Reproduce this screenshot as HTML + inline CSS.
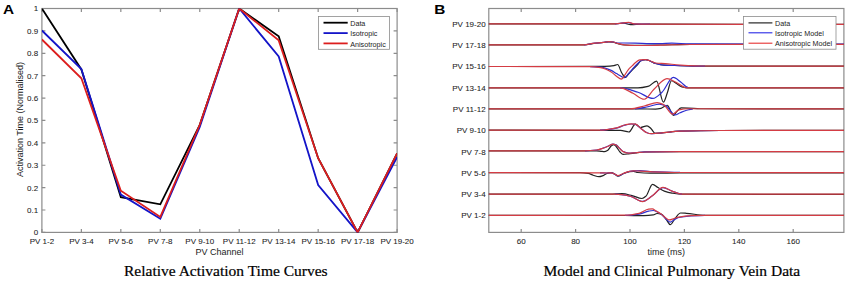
<!DOCTYPE html>
<html><head><meta charset="utf-8"><style>
html,body{margin:0;padding:0;background:#fff;width:849px;height:283px;overflow:hidden}
svg{display:block}
</style></head><body>
<svg width="849" height="283" viewBox="0 0 849 283">
<rect width="849" height="283" fill="#fff"/>
<text transform="translate(3 14.3) scale(1.13 1)" font-family="Liberation Sans, sans-serif" font-weight="bold" font-size="13.6" fill="#000">A</text>
<text transform="translate(434.2 14.4) scale(1.13 1)" font-family="Liberation Sans, sans-serif" font-weight="bold" font-size="13.6" fill="#000">B</text>
<defs><clipPath id="ca"><rect x="41.9" y="8.5" width="355.2" height="223.9"/></clipPath>
<clipPath id="cb"><rect x="488.8" y="8.5" width="355.1" height="223.9"/></clipPath></defs>
<g fill="none" stroke="#8c8c8c" stroke-width="1.2">
<rect x="41.9" y="8.5" width="355.2" height="223.9"/>
<path d="M41.90 232.40 v-3.5 M41.90 8.50 v3.5 M81.37 232.40 v-3.5 M81.37 8.50 v3.5 M120.83 232.40 v-3.5 M120.83 8.50 v3.5 M160.30 232.40 v-3.5 M160.30 8.50 v3.5 M199.77 232.40 v-3.5 M199.77 8.50 v3.5 M239.23 232.40 v-3.5 M239.23 8.50 v3.5 M278.70 232.40 v-3.5 M278.70 8.50 v3.5 M318.17 232.40 v-3.5 M318.17 8.50 v3.5 M357.63 232.40 v-3.5 M357.63 8.50 v3.5 M397.10 232.40 v-3.5 M397.10 8.50 v3.5 M41.90 232.40 h3.5 M397.10 232.40 h-3.5 M41.90 210.01 h3.5 M397.10 210.01 h-3.5 M41.90 187.62 h3.5 M397.10 187.62 h-3.5 M41.90 165.23 h3.5 M397.10 165.23 h-3.5 M41.90 142.84 h3.5 M397.10 142.84 h-3.5 M41.90 120.45 h3.5 M397.10 120.45 h-3.5 M41.90 98.06 h3.5 M397.10 98.06 h-3.5 M41.90 75.67 h3.5 M397.10 75.67 h-3.5 M41.90 53.28 h3.5 M397.10 53.28 h-3.5 M41.90 30.89 h3.5 M397.10 30.89 h-3.5 M41.90 8.50 h3.5 M397.10 8.50 h-3.5"/>
</g>
<g clip-path="url(#ca)" fill="none" stroke-width="1.8" stroke-linejoin="miter">
<polyline points="41.90,8.50 81.37,69.50 120.83,197.10 160.30,204.30 199.77,124.80 239.23,8.50 278.70,36.20 318.17,158.20 357.63,232.40 397.10,153.30" stroke="#000"/>
<polyline points="41.90,30.50 81.37,69.10 120.83,194.60 160.30,218.80 199.77,127.00 239.23,8.50 278.70,56.50 318.17,185.10 357.63,232.40 397.10,157.20" stroke="#1414c8"/>
<polyline points="41.90,39.50 81.37,78.30 120.83,190.70 160.30,216.90 199.77,124.80 239.23,8.50 278.70,40.40 318.17,158.20 357.63,232.40 397.10,153.30" stroke="#dc1e1e"/>
</g>
<g font-family="Liberation Sans, sans-serif" font-size="8" fill="#1c1c1c" stroke="#1c1c1c" stroke-width="0.06">
<text x="41.90" y="244.4" text-anchor="middle">PV 1-2</text>
<text x="81.37" y="244.4" text-anchor="middle">PV 3-4</text>
<text x="120.83" y="244.4" text-anchor="middle">PV 5-6</text>
<text x="160.30" y="244.4" text-anchor="middle">PV 7-8</text>
<text x="199.77" y="244.4" text-anchor="middle">PV 9-10</text>
<text x="239.23" y="244.4" text-anchor="middle">PV 11-12</text>
<text x="278.70" y="244.4" text-anchor="middle">PV 13-14</text>
<text x="318.17" y="244.4" text-anchor="middle">PV 15-16</text>
<text x="357.63" y="244.4" text-anchor="middle">PV 17-18</text>
<text x="397.10" y="244.4" text-anchor="middle">PV 19-20</text>
<text x="38.2" y="235.30" text-anchor="end">0</text>
<text x="38.2" y="212.91" text-anchor="end">0.1</text>
<text x="38.2" y="190.52" text-anchor="end">0.2</text>
<text x="38.2" y="168.13" text-anchor="end">0.3</text>
<text x="38.2" y="145.74" text-anchor="end">0.4</text>
<text x="38.2" y="123.35" text-anchor="end">0.5</text>
<text x="38.2" y="100.96" text-anchor="end">0.6</text>
<text x="38.2" y="78.57" text-anchor="end">0.7</text>
<text x="38.2" y="56.18" text-anchor="end">0.8</text>
<text x="38.2" y="33.79" text-anchor="end">0.9</text>
<text x="38.2" y="11.40" text-anchor="end">1</text>
</g>
<text x="219.5" y="255.2" font-family="Liberation Sans, sans-serif" font-size="9" fill="#1c1c1c" text-anchor="middle">PV Channel</text>
<text transform="translate(22.6 119.5) rotate(-90)" font-family="Liberation Sans, sans-serif" font-size="9" fill="#1c1c1c" text-anchor="middle">Activation Time (Normalised)</text>
<rect x="318.5" y="16.5" width="71" height="32.8" fill="#fff" stroke="#8c8c8c" stroke-width="0.8"/>
<g stroke-width="1.8">
<path d="M323.5 22.7 H347.7" stroke="#000"/>
<path d="M323.5 33.1 H347.7" stroke="#1414c8"/>
<path d="M323.5 43.4 H347.7" stroke="#dc1e1e"/>
</g>
<g font-family="Liberation Sans, sans-serif" font-size="7.2" fill="#1c1c1c">
<text x="350.2" y="25.9">Data</text>
<text x="350.2" y="36.3">Isotropic</text>
<text x="350.2" y="46.6">Anisotropic</text>
</g>
<text x="124" y="276.3" font-family="Liberation Serif, serif" font-size="15.5" fill="#000" stroke="#000" stroke-width="0.22">Relative Activation Time Curves</text>
<text x="543.5" y="276.3" font-family="Liberation Serif, serif" font-size="15.5" fill="#000" stroke="#000" stroke-width="0.22">Model and Clinical Pulmonary Vein Data</text>
<g fill="none" stroke="#8c8c8c" stroke-width="1.2">
<rect x="488.8" y="8.5" width="355.1" height="223.9"/>
<path d="M521.20 232.40 v-3.5 M521.20 8.50 v3.5 M575.60 232.40 v-3.5 M575.60 8.50 v3.5 M630.00 232.40 v-3.5 M630.00 8.50 v3.5 M684.40 232.40 v-3.5 M684.40 8.50 v3.5 M738.80 232.40 v-3.5 M738.80 8.50 v3.5 M793.20 232.40 v-3.5 M793.20 8.50 v3.5"/>
</g>
<g font-family="Liberation Sans, sans-serif" font-size="8" fill="#1c1c1c" stroke="#1c1c1c" stroke-width="0.06">
<text x="485.6" y="218.40" text-anchor="end">PV 1-2</text>
<text x="485.6" y="197.10" text-anchor="end">PV 3-4</text>
<text x="485.6" y="175.80" text-anchor="end">PV 5-6</text>
<text x="485.6" y="154.50" text-anchor="end">PV 7-8</text>
<text x="485.6" y="133.20" text-anchor="end">PV 9-10</text>
<text x="485.6" y="111.90" text-anchor="end">PV 11-12</text>
<text x="485.6" y="90.60" text-anchor="end">PV 13-14</text>
<text x="485.6" y="69.30" text-anchor="end">PV 15-16</text>
<text x="485.6" y="48.00" text-anchor="end">PV 17-18</text>
<text x="485.6" y="26.70" text-anchor="end">PV 19-20</text>
<text x="521.20" y="244.4" text-anchor="middle">60</text>
<text x="575.60" y="244.4" text-anchor="middle">80</text>
<text x="630.00" y="244.4" text-anchor="middle">100</text>
<text x="684.40" y="244.4" text-anchor="middle">120</text>
<text x="738.80" y="244.4" text-anchor="middle">140</text>
<text x="793.20" y="244.4" text-anchor="middle">160</text>
</g>
<text x="666.3" y="255.2" font-family="Liberation Sans, sans-serif" font-size="9" fill="#1c1c1c" text-anchor="middle">time (ms)</text>
<g clip-path="url(#cb)" fill="none" stroke-width="1.2" stroke-linejoin="round">
<path d="M486.00 215.30 C532.33 215.30 578.67 215.38 625.00 215.50 C631.30 215.52 637.60 215.60 643.90 215.60 C647.03 215.60 650.17 215.33 653.30 214.90 C654.53 214.73 655.77 213.50 657.00 213.50 C658.60 213.50 660.20 213.83 661.80 214.30 C663.37 214.76 664.93 217.95 666.50 219.90 C667.73 221.43 668.97 224.70 670.20 224.70 C671.80 224.70 673.40 220.29 675.00 218.50 C676.87 216.41 678.73 213.00 680.60 213.00 C682.50 213.00 684.40 213.17 686.30 213.30 C692.53 213.71 698.77 215.29 705.00 215.30 C752.00 215.39 799.00 215.40 846.00 215.40" stroke="#222222" stroke-opacity="1"/>
<path d="M486.00 194.20 C527.33 194.20 568.67 194.20 610.00 194.20 C614.00 194.20 618.00 193.70 622.00 193.70 C625.33 193.70 628.67 194.83 632.00 195.60 C635.33 196.37 638.67 198.50 642.00 198.50 C643.33 198.50 644.67 197.26 646.00 196.10 C648.17 194.22 650.33 184.30 652.50 184.30 C654.33 184.30 656.17 186.54 658.00 187.60 C660.10 188.81 662.20 190.35 664.30 191.10 C666.87 192.02 669.43 192.70 672.00 193.10 C675.33 193.62 678.67 194.19 682.00 194.20 C736.67 194.29 791.33 194.30 846.00 194.30" stroke="#222222" stroke-opacity="1"/>
<path d="M486.00 172.70 C517.33 172.70 548.67 172.70 580.00 172.70 C582.73 172.70 585.47 173.00 588.20 173.40 C589.87 173.64 591.53 174.70 593.20 175.20 C595.13 175.78 597.07 176.70 599.00 176.70 C600.37 176.70 601.73 176.09 603.10 175.60 C604.47 175.11 605.83 173.75 607.20 173.40 C608.57 173.05 609.93 172.70 611.30 172.70 C612.40 172.70 613.50 173.46 614.60 174.00 C615.70 174.54 616.80 176.20 617.90 176.20 C619.83 176.20 621.77 174.24 623.70 173.50 C625.63 172.76 627.57 171.76 629.50 171.60 C630.87 171.49 632.23 171.40 633.60 171.40 C634.97 171.40 636.33 172.37 637.70 172.50 C641.80 172.88 645.90 173.10 650.00 173.10 C660.00 173.10 670.00 173.02 680.00 173.00 C735.33 172.89 790.67 172.80 846.00 172.80" stroke="#222222" stroke-opacity="1"/>
<path d="M486.00 150.90 C519.00 150.90 552.00 150.90 585.00 150.90 C588.90 150.90 592.80 150.90 596.70 150.90 C598.13 150.90 599.57 151.17 601.00 151.30 C602.13 151.40 603.27 151.60 604.40 151.60 C605.43 151.60 606.47 150.99 607.50 150.40 C608.80 149.66 610.10 146.71 611.40 145.80 C612.17 145.26 612.93 144.60 613.70 144.60 C614.50 144.60 615.30 145.71 616.10 146.50 C617.40 147.79 618.70 150.75 620.00 152.00 C621.03 152.99 622.07 154.30 623.10 154.30 C624.90 154.30 626.70 154.07 628.50 153.90 C630.83 153.68 633.17 153.17 635.50 152.90 C638.60 152.54 641.70 152.07 644.80 152.00 C656.53 151.72 668.27 151.60 680.00 151.60 C735.33 151.60 790.67 151.60 846.00 151.60" stroke="#222222" stroke-opacity="1"/>
<path d="M486.00 130.20 C524.00 130.20 562.00 130.23 600.00 130.30 C606.87 130.31 613.73 130.32 620.60 130.40 C623.37 130.43 626.13 132.00 628.90 132.00 C631.07 132.00 633.23 124.20 635.40 124.20 C637.07 124.20 638.73 127.50 640.40 127.50 C642.60 127.50 644.80 125.80 647.00 125.80 C648.37 125.80 649.73 127.51 651.10 128.70 C652.47 129.89 653.83 133.30 655.20 133.30 C656.80 133.30 658.40 133.19 660.00 133.10 C666.67 132.74 673.33 131.41 680.00 131.20 C693.33 130.77 706.67 130.52 720.00 130.50 C762.00 130.42 804.00 130.40 846.00 130.40" stroke="#222222" stroke-opacity="1"/>
<path d="M486.00 108.85 C537.33 108.85 588.67 108.85 640.00 108.85 C645.17 108.85 650.33 109.15 655.50 109.15 C657.33 109.15 659.17 108.76 661.00 108.35 C663.07 107.89 665.13 105.25 667.20 105.25 C669.27 105.25 671.33 115.35 673.40 115.35 C674.60 115.35 675.80 112.37 677.00 111.25 C678.40 109.94 679.80 107.95 681.20 107.95 C683.53 107.95 685.87 108.00 688.20 108.05 C692.13 108.14 696.07 108.74 700.00 108.75 C748.67 108.84 797.33 108.85 846.00 108.85" stroke="#222222" stroke-opacity="1"/>
<path d="M486.00 87.95 C536.67 87.95 587.33 87.95 638.00 87.95 C641.33 87.95 644.67 87.27 648.00 86.45 C650.87 85.75 653.73 81.15 656.60 81.15 C658.87 81.15 661.13 102.15 663.40 102.15 C664.77 102.15 666.13 95.88 667.50 92.25 C668.80 88.80 670.10 80.75 671.40 80.75 C672.93 80.75 674.47 82.36 676.00 83.25 C677.97 84.39 679.93 86.44 681.90 86.95 C683.93 87.48 685.97 87.95 688.00 87.95 C740.67 87.95 793.33 87.95 846.00 87.95" stroke="#222222" stroke-opacity="1"/>
<path d="M486.00 66.50 C524.00 66.50 562.00 66.49 600.00 66.40 C603.33 66.39 606.67 66.28 610.00 66.10 C611.33 66.03 612.67 65.84 614.00 65.60 C615.20 65.39 616.40 64.50 617.60 64.50 C619.00 64.50 620.40 70.88 621.80 73.00 C623.03 74.86 624.27 77.50 625.50 77.50 C626.50 77.50 627.50 75.12 628.50 74.00 C629.80 72.54 631.10 71.15 632.40 69.80 C634.17 67.96 635.93 66.41 637.70 64.50 C638.77 63.35 639.83 61.26 640.90 60.80 C642.50 60.11 644.10 59.60 645.70 59.60 C647.13 59.60 648.57 60.46 650.00 61.00 C651.87 61.70 653.73 62.97 655.60 63.50 C658.40 64.30 661.20 65.06 664.00 65.20 C669.33 65.46 674.67 65.47 680.00 65.60 C688.33 65.80 696.67 66.20 705.00 66.20 C752.00 66.20 799.00 66.20 846.00 66.20" stroke="#222222" stroke-opacity="1"/>
<path d="M486.00 44.80 C518.73 44.80 551.47 44.80 584.20 44.80 C587.03 44.80 589.87 43.94 592.70 43.60 C596.23 43.17 599.77 42.90 603.30 42.50 C605.17 42.29 607.03 41.80 608.90 41.80 C610.33 41.80 611.77 41.93 613.20 42.10 C614.60 42.26 616.00 43.13 617.40 43.50 C619.77 44.12 622.13 44.87 624.50 45.00 C628.00 45.19 631.50 45.30 635.00 45.30 C643.33 45.30 651.67 45.12 660.00 45.00 C670.00 44.85 680.00 44.42 690.00 44.40 C742.00 44.32 794.00 44.30 846.00 44.30" stroke="#222222" stroke-opacity="1"/>
<path d="M486.00 23.80 C529.00 23.80 572.00 23.80 615.00 23.80 C618.00 23.80 621.00 23.20 624.00 23.20 C626.20 23.20 628.40 24.70 630.60 24.70 C632.40 24.70 634.20 24.44 636.00 24.40 C640.67 24.28 645.33 24.20 650.00 24.20 C715.33 24.20 780.67 24.30 846.00 24.30" stroke="#222222" stroke-opacity="1"/>
<path d="M625.00 215.30 C629.70 215.30 634.40 214.75 639.10 214.10 C642.27 213.66 645.43 211.65 648.60 211.10 C650.17 210.83 651.73 210.50 653.30 210.50 C654.53 210.50 655.77 211.18 657.00 211.70 C658.60 212.37 660.20 213.46 661.80 214.70 C663.37 215.92 664.93 218.21 666.50 219.50 C667.73 220.52 668.97 222.10 670.20 222.10 C671.47 222.10 672.73 220.69 674.00 220.00 C675.57 219.15 677.13 217.86 678.70 217.50 C682.80 216.56 686.90 216.17 691.00 215.90 C695.67 215.60 700.33 215.30 705.00 215.30" stroke="#2e2ed0" stroke-opacity="1"/>
<path d="M615.00 194.20 C620.00 194.20 625.00 195.11 630.00 196.10 C634.20 196.93 638.40 201.40 642.60 201.40 C645.73 201.40 648.87 198.13 652.00 196.10 C655.67 193.72 659.33 187.60 663.00 187.60 C666.00 187.60 669.00 190.08 672.00 191.10 C675.33 192.23 678.67 194.10 682.00 194.10" stroke="#2e2ed0" stroke-opacity="1"/>
<path d="M600.00 172.80 C602.33 172.80 604.67 173.00 607.00 173.00 C608.43 173.00 609.87 172.80 611.30 172.80 C612.40 172.80 613.50 173.52 614.60 174.00 C615.70 174.48 616.80 175.80 617.90 175.80 C619.83 175.80 621.77 174.25 623.70 173.50 C625.63 172.75 627.57 171.65 629.50 171.30 C630.87 171.05 632.23 170.84 633.60 170.80 C635.73 170.74 637.87 170.70 640.00 170.70 C643.33 170.70 646.67 171.45 650.00 171.60 C660.00 172.05 670.00 172.40 680.00 172.40" stroke="#2e2ed0" stroke-opacity="1"/>
<path d="M585.00 150.80 C588.90 150.80 592.80 150.46 596.70 150.00 C599.27 149.70 601.83 148.52 604.40 147.60 C605.70 147.13 607.00 146.54 608.30 146.00 C609.87 145.35 611.43 144.00 613.00 144.00 C614.03 144.00 615.07 144.44 616.10 144.90 C617.40 145.47 618.70 147.59 620.00 148.80 C621.03 149.76 622.07 151.04 623.10 151.50 C624.90 152.30 626.70 153.00 628.50 153.00 C630.83 153.00 633.17 152.76 635.50 152.60 C638.60 152.39 641.70 151.86 644.80 151.80 C656.53 151.58 668.27 151.50 680.00 151.50" stroke="#2e2ed0" stroke-opacity="1"/>
<path d="M600.00 130.20 C605.50 130.20 611.00 129.26 616.50 128.20 C619.23 127.67 621.97 125.86 624.70 125.20 C626.90 124.67 629.10 124.00 631.30 124.00 C632.67 124.00 634.03 124.17 635.40 124.40 C637.33 124.72 639.27 127.27 641.20 128.70 C642.87 129.93 644.53 131.75 646.20 132.40 C647.83 133.04 649.47 133.70 651.10 133.70 C652.47 133.70 653.83 133.49 655.20 133.40 C656.80 133.29 658.40 133.22 660.00 133.10 C666.67 132.62 673.33 131.41 680.00 131.20 C693.33 130.77 706.67 130.50 720.00 130.50" stroke="#2e2ed0" stroke-opacity="1"/>
<path d="M635.00 108.85 C639.33 108.85 643.67 107.59 648.00 106.75 C651.80 106.02 655.60 104.05 659.40 104.05 C661.47 104.05 663.53 104.84 665.60 105.65 C668.73 106.88 671.87 114.95 675.00 114.95 C676.67 114.95 678.33 113.43 680.00 112.75 C682.20 111.85 684.40 110.78 686.60 110.25 C688.67 109.75 690.73 109.15 692.80 109.15" stroke="#2e2ed0" stroke-opacity="1"/>
<path d="M620.00 87.95 C626.00 87.95 632.00 90.41 638.00 92.25 C642.97 93.77 647.93 98.45 652.90 98.45 C655.93 98.45 658.97 94.94 662.00 92.25 C665.77 88.91 669.53 77.45 673.30 77.45 C675.87 77.45 678.43 80.51 681.00 82.25 C683.33 83.83 685.67 87.45 688.00 87.45" stroke="#2e2ed0" stroke-opacity="1"/>
<path d="M590.00 66.60 C593.53 66.60 597.07 66.86 600.60 67.20 C604.13 67.54 607.67 68.92 611.20 70.40 C612.97 71.14 614.73 72.55 616.50 73.60 C618.27 74.65 620.03 75.76 621.80 76.70 C622.53 77.09 623.27 77.80 624.00 77.80 C624.67 77.80 625.33 77.03 626.00 76.50 C627.33 75.43 628.67 73.49 630.00 72.00 C632.57 69.14 635.13 65.87 637.70 63.50 C638.80 62.49 639.90 61.21 641.00 60.80 C642.57 60.21 644.13 59.70 645.70 59.70 C647.13 59.70 648.57 60.49 650.00 61.00 C651.87 61.67 653.73 62.97 655.60 63.50 C658.40 64.30 661.20 65.06 664.00 65.20 C669.33 65.46 674.67 65.47 680.00 65.60 C688.33 65.80 696.67 66.20 705.00 66.20" stroke="#2e2ed0" stroke-opacity="1"/>
<path d="M584.20 44.80 C587.03 44.80 589.87 43.74 592.70 43.40 C596.23 42.97 599.77 42.79 603.30 42.40 C605.17 42.20 607.03 41.70 608.90 41.70 C610.33 41.70 611.77 41.84 613.20 42.00 C614.60 42.15 616.00 43.00 617.40 43.00 C619.77 43.00 622.13 43.00 624.50 43.00 C628.00 43.00 631.50 43.05 635.00 43.10 C640.00 43.17 645.00 43.60 650.00 43.60 C653.33 43.60 656.67 43.60 660.00 43.60 C663.93 43.60 667.87 43.10 671.80 43.10 C677.87 43.10 683.93 43.87 690.00 43.90 C742.00 44.15 794.00 44.20 846.00 44.20" stroke="#2e2ed0" stroke-opacity="1"/>
<path d="M615.00 23.80 C619.57 23.80 624.13 22.60 628.70 22.60 C630.47 22.60 632.23 23.71 634.00 23.80 C639.33 24.08 644.67 24.20 650.00 24.20" stroke="#2e2ed0" stroke-opacity="1"/>
<path d="M486.00 215.30 C532.33 215.30 578.67 215.29 625.00 215.20 C629.70 215.19 634.40 214.31 639.10 213.30 C642.27 212.62 645.43 209.37 648.60 209.10 C649.83 208.99 651.07 208.90 652.30 208.90 C653.57 208.90 654.83 210.27 656.10 211.00 C657.67 211.90 659.23 212.72 660.80 213.80 C662.70 215.11 664.60 217.35 666.50 218.50 C667.43 219.07 668.37 219.90 669.30 219.90 C670.87 219.90 672.43 218.97 674.00 218.50 C675.57 218.03 677.13 217.38 678.70 217.10 C682.80 216.38 686.90 215.89 691.00 215.70 C695.67 215.48 700.33 215.30 705.00 215.30 C752.00 215.30 799.00 215.40 846.00 215.40" stroke="#d43c44" stroke-opacity="1"/>
<path d="M486.00 194.20 C529.00 194.20 572.00 194.20 615.00 194.20 C620.00 194.20 625.00 195.10 630.00 196.10 C634.20 196.94 638.40 201.60 642.60 201.60 C645.73 201.60 648.87 198.20 652.00 196.10 C655.67 193.64 659.33 187.40 663.00 187.40 C666.00 187.40 669.00 190.06 672.00 191.10 C675.33 192.26 678.67 194.09 682.00 194.10 C736.67 194.19 791.33 194.20 846.00 194.20" stroke="#d43c44" stroke-opacity="1"/>
<path d="M486.00 172.70 C524.00 172.70 562.00 172.71 600.00 172.80 C602.33 172.81 604.67 173.00 607.00 173.00 C608.43 173.00 609.87 172.80 611.30 172.80 C612.40 172.80 613.50 173.54 614.60 174.00 C615.70 174.46 616.80 175.60 617.90 175.60 C619.83 175.60 621.77 174.01 623.70 173.30 C625.63 172.59 627.57 171.64 629.50 171.30 C630.87 171.06 632.23 170.80 633.60 170.80 C635.73 170.80 637.87 171.08 640.00 171.20 C643.33 171.39 646.67 171.58 650.00 171.70 C660.00 172.07 670.00 172.47 680.00 172.50 C735.33 172.66 790.67 172.70 846.00 172.70" stroke="#d43c44" stroke-opacity="1"/>
<path d="M486.00 150.90 C519.00 150.90 552.00 150.89 585.00 150.80 C588.90 150.79 592.80 150.45 596.70 150.00 C599.27 149.70 601.83 148.58 604.40 147.70 C605.70 147.26 607.00 146.72 608.30 146.20 C609.87 145.57 611.43 144.20 613.00 144.20 C614.03 144.20 615.07 144.59 616.10 145.00 C617.40 145.52 618.70 147.69 620.00 148.90 C621.03 149.86 622.07 151.12 623.10 151.60 C624.90 152.43 626.70 153.20 628.50 153.20 C630.83 153.20 633.17 152.96 635.50 152.80 C638.60 152.59 641.70 152.07 644.80 152.00 C656.53 151.72 668.27 151.60 680.00 151.60 C735.33 151.60 790.67 151.60 846.00 151.60" stroke="#d43c44" stroke-opacity="1"/>
<path d="M486.00 130.20 C524.00 130.20 562.00 130.20 600.00 130.20 C605.50 130.20 611.00 129.06 616.50 127.90 C619.23 127.33 621.97 125.65 624.70 125.00 C626.90 124.48 629.10 123.80 631.30 123.80 C632.67 123.80 634.03 123.97 635.40 124.20 C637.33 124.52 639.27 127.24 641.20 128.70 C642.87 129.96 644.53 131.75 646.20 132.40 C647.83 133.04 649.47 133.70 651.10 133.70 C652.47 133.70 653.83 133.38 655.20 133.30 C656.80 133.21 658.40 133.19 660.00 133.10 C666.67 132.74 673.33 131.41 680.00 131.20 C693.33 130.77 706.67 130.52 720.00 130.50 C762.00 130.42 804.00 130.40 846.00 130.40" stroke="#d43c44" stroke-opacity="1"/>
<path d="M486.00 108.85 C534.00 108.85 582.00 108.85 630.00 108.85 C635.00 108.85 640.00 106.92 645.00 105.75 C649.03 104.81 653.07 102.55 657.10 102.55 C659.17 102.55 661.23 103.51 663.30 104.45 C666.40 105.87 669.50 114.15 672.60 114.15 C674.70 114.15 676.80 110.42 678.90 109.95 C682.00 109.25 685.10 108.75 688.20 108.75 C740.80 108.75 793.40 108.85 846.00 108.85" stroke="#d43c44" stroke-opacity="1"/>
<path d="M486.00 87.95 C530.67 87.95 575.33 87.95 620.00 87.95 C624.33 87.95 628.67 91.24 633.00 93.25 C636.73 94.98 640.47 99.25 644.20 99.25 C647.47 99.25 650.73 92.23 654.00 89.25 C658.33 85.30 662.67 78.65 667.00 78.65 C670.00 78.65 673.00 80.90 676.00 82.25 C679.63 83.89 683.27 87.95 686.90 87.95 C739.93 87.95 792.97 87.95 846.00 87.95" stroke="#d43c44" stroke-opacity="1"/>
<path d="M486.00 66.50 C520.67 66.50 555.33 66.52 590.00 66.70 C593.53 66.72 597.07 67.16 600.60 67.70 C604.13 68.24 607.67 70.03 611.20 72.00 C612.97 72.98 614.73 74.97 616.50 76.20 C618.10 77.32 619.70 79.20 621.30 79.20 C622.37 79.20 623.43 76.90 624.50 75.50 C625.73 73.88 626.97 71.30 628.20 69.80 C629.60 68.09 631.00 67.00 632.40 65.60 C633.47 64.53 634.53 63.22 635.60 62.40 C637.00 61.32 638.40 59.89 639.80 59.80 C641.77 59.67 643.73 59.60 645.70 59.60 C647.13 59.60 648.57 60.34 650.00 60.80 C651.87 61.40 653.73 62.78 655.60 63.00 C658.73 63.37 661.87 63.37 665.00 63.60 C670.00 63.97 675.00 64.71 680.00 65.00 C688.33 65.48 696.67 65.97 705.00 66.00 C752.00 66.16 799.00 66.20 846.00 66.20" stroke="#d43c44" stroke-opacity="1"/>
<path d="M486.00 44.80 C518.73 44.80 551.47 44.80 584.20 44.80 C587.03 44.80 589.87 43.74 592.70 43.40 C596.23 42.97 599.77 42.79 603.30 42.40 C605.17 42.20 607.03 41.70 608.90 41.70 C610.33 41.70 611.77 41.83 613.20 42.00 C614.60 42.16 616.00 43.05 617.40 43.40 C619.77 44.00 622.13 44.56 624.50 44.80 C628.00 45.16 631.50 45.50 635.00 45.50 C640.00 45.50 645.00 45.50 650.00 45.50 C653.33 45.50 656.67 45.29 660.00 45.20 C670.00 44.93 680.00 44.53 690.00 44.50 C742.00 44.34 794.00 44.30 846.00 44.30" stroke="#d43c44" stroke-opacity="1"/>
<path d="M486.00 23.80 C529.00 23.80 572.00 23.80 615.00 23.80 C619.57 23.80 624.13 22.40 628.70 22.40 C630.47 22.40 632.23 23.71 634.00 23.80 C639.33 24.08 644.67 24.19 650.00 24.20 C715.33 24.29 780.67 24.30 846.00 24.30" stroke="#d43c44" stroke-opacity="1"/>
</g>
<rect x="743.6" y="16.5" width="92.4" height="32.7" fill="#fff" stroke="#8c8c8c" stroke-width="0.8"/>
<g stroke-width="1.1">
<path d="M748.5 22.9 H772.4" stroke="#141414"/>
<path d="M748.5 32.8 H772.4" stroke="#2828e6"/>
<path d="M748.5 43.2 H772.4" stroke="#e63232"/>
</g>
<g font-family="Liberation Sans, sans-serif" font-size="7.2" fill="#1c1c1c">
<text x="775" y="26.1">Data</text>
<text x="775" y="35.8">Isotropic Model</text>
<text x="775" y="45.9">Anisotropic Model</text>
</g>
</svg>
</body></html>
